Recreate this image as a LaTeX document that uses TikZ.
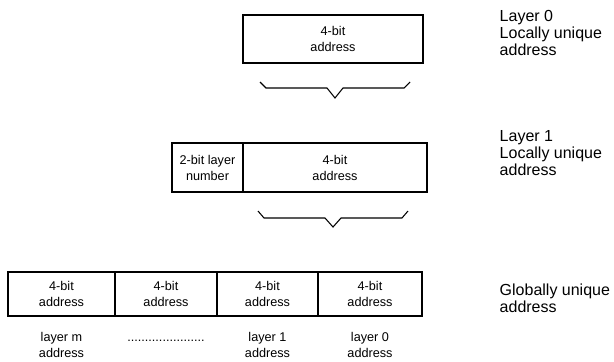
\documentclass[tikz,border=0pt]{standalone}
\usepackage{fontspec}
\setmainfont{Liberation Sans}
\usetikzlibrary{positioning}

\tikzset{
  field/.style={draw, rectangle, line width=1.4pt, outer sep=0pt, inner sep=0pt, align=center, font=\fontsize{9.5}{12}\selectfont},
  side/.style={anchor=west, align=left, font=\fontsize{12}{12.5}\selectfont},
  under/.style={align=center, font=\fontsize{9.5}{12}\selectfont},
  bracket/.style={line width=0.8pt},
}

\begin{document}
\begin{tikzpicture}[x=0.75pt, y=-0.75pt]
  \useasboundingbox (0,0) rectangle (614,361);

  % layer 0
  \node[field, minimum width=135pt, minimum height=36pt] (l0addr) at (333,39) {4-bit\\address};
  \draw[bracket] (260,82) -- (266,88) -- (327,88) -- (335,98) -- (343,88) -- (404,88) -- (410,82);

  % layer 1
  \node[field, minimum width=53.25pt, minimum height=36.75pt] (l1num) at (207.5,167.5) {2-bit layer\\number};
  \node[field, minimum width=138pt, minimum height=36.75pt, right=0pt of l1num] (l1addr) {4-bit\\address};
  \draw[bracket] (258,211) -- (264,218) -- (325,218) -- (333,227) -- (341,218) -- (402,218) -- (408,211);

  % global address
  \node[field, minimum width=80.25pt, minimum height=33pt] (gm) at (61.5,294) {4-bit\\address};
  \node[field, minimum width=76.5pt, minimum height=33pt, right=0pt of gm] (gdots) {4-bit\\address};
  \node[field, minimum width=75.75pt, minimum height=33pt, right=0pt of gdots] (g1) {4-bit\\address};
  \node[field, minimum width=78pt, minimum height=33pt, right=0pt of g1] (g0) {4-bit\\address};

  \node[under, below=7.5pt of gm] (lm) {\strut layer m\\address};
  \node[under, below=7.5pt of gdots] (ldots) {\strut ......................};
  \node[under, below=7.5pt of g1] (l1) {\strut layer 1\\address};
  \node[under, below=7.5pt of g0] (l0) {\strut layer 0\\address};

  % captions
  \node[side] (t0) at (495,33) {Layer 0\\Locally unique\\address};
  \node[side] (t1) at (495,153) {Layer 1\\Locally unique\\address};
  \node[side] (tg) at (495,298) {Globally unique\\address};
\end{tikzpicture}
\end{document}
